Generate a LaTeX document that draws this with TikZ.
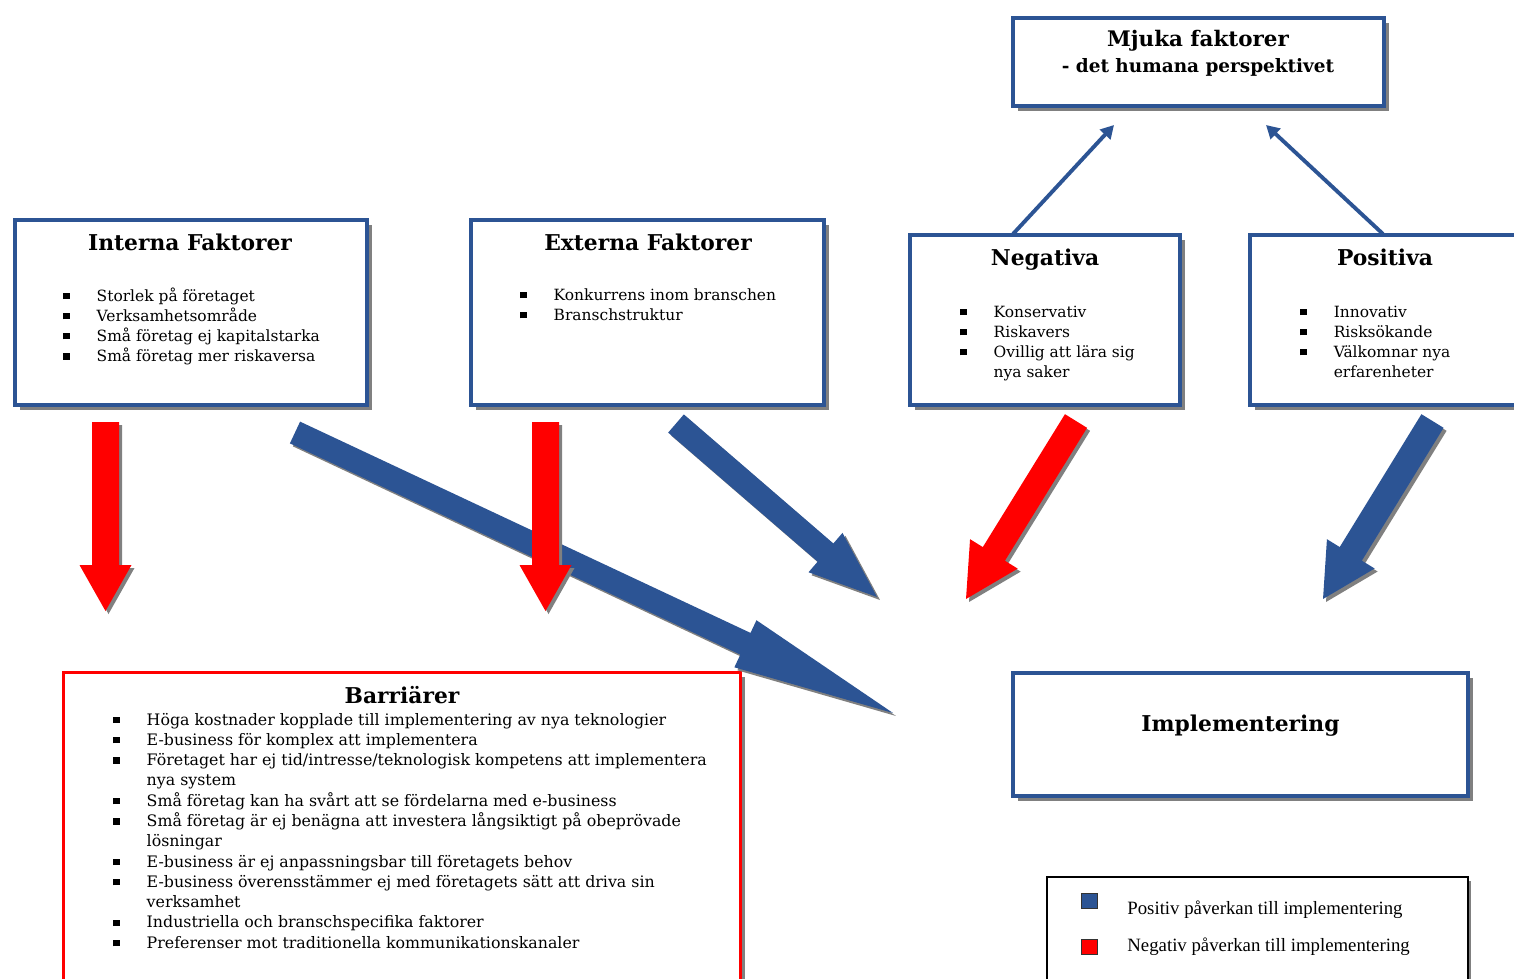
\documentclass[tikz,border=0pt]{standalone}
\usepackage{fontspec}
\setmainfont{DejaVu Serif}
\newfontfamily\legfont{Liberation Serif}
\usetikzlibrary{arrows.meta,shadows,calc}
\definecolor{bblue}{RGB}{44,84,148}
\definecolor{shgray}{RGB}{128,128,128}
\definecolor{rred}{RGB}{255,0,0}
\newcommand{\sqb}{\rule[1.1pt]{3.6pt}{3.6pt}}
\newcommand{\blockarr}[8]{%
  \pgfmathsetmacro\BAdx{#3-#1}%
  \pgfmathsetmacro\BAdy{#4-#2}%
  \pgfmathsetmacro\BAlen{veclen(\BAdx,\BAdy)}%
  \pgfmathsetmacro\BAang{atan2(\BAdy,\BAdx)}%
  \pgfmathsetmacro\BAbase{\BAlen-#7}%
  \fill[shgray, shift={(#1+3,#2+3)}, rotate=-\BAang] (0,-#5) -- (\BAbase,-#5) -- (\BAbase,-#6) -- (\BAlen,0) -- (\BAbase,#6) -- (\BAbase,#5) -- (0,#5) -- cycle;
  \fill[#8, shift={(#1,#2)}, rotate=-\BAang] (0,-#5) -- (\BAbase,-#5) -- (\BAbase,-#6) -- (\BAlen,0) -- (\BAbase,#6) -- (\BAbase,#5) -- (0,#5) -- cycle;
}
\begin{document}
\begin{tikzpicture}[x=0.02cm,y=-0.02cm,
  bluebox/.style={rectangle, draw=bblue, line width=2pt, fill=white, inner sep=0pt,
    drop shadow={opacity=1, fill=shgray, shadow xshift=2.6pt, shadow yshift=-2.6pt}},
  redbox/.style={rectangle, draw=rred, line width=1.8pt, fill=white, inner sep=0pt,
    drop shadow={opacity=1, fill=shgray, shadow xshift=2.4pt, shadow yshift=-2.4pt}},
  legbox/.style={rectangle, draw=black, line width=0.9pt, fill=white, inner sep=0pt,
    drop shadow={opacity=1, fill=shgray, shadow xshift=2pt, shadow yshift=-2pt}},
  ttl/.style={inner sep=0pt, anchor=base, font=\bfseries\fontsize{12.4}{14}\selectfont},
  lst/.style={inner sep=0pt, anchor=base west, font=\fontsize{8.8}{11.5}\selectfont},
  blst/.style={inner sep=0pt, anchor=base west, font=\fontsize{9.0}{11.55}\selectfont},
  legtxt/.style={inner sep=0pt, anchor=base west, font=\legfont\fontsize{10.7}{12}\selectfont},
  legsq/.style={rectangle, draw=black!80, line width=0.5pt, minimum width=0.32cm, minimum height=0.30cm, inner sep=0pt},
  thinarr/.style={draw=bblue, line width=2.2pt, -{Triangle[length=7.5pt,width=8pt]}}
]
\path[use as bounding box] (0,0) rectangle (1514,978);
\clip (0,0) rectangle (1514,978);
\fill[white] (0,0) rectangle (1514,978);

% boxes
\node[bluebox, minimum width=7.42cm, minimum height=1.76cm] (mj) at (1198.5,62) {};
\node[bluebox, minimum width=7.04cm, minimum height=3.70cm] (int) at (191,312.5) {};
\node[bluebox, minimum width=7.06cm, minimum height=3.70cm] (ext) at (647.5,312.5) {};
\node[bluebox, minimum width=5.40cm, minimum height=3.40cm] (neg) at (1045,320) {};
\node[bluebox, minimum width=5.40cm, minimum height=3.40cm] (pos) at (1385,320) {};
\node[redbox, minimum width=13.54cm, minimum height=6.35cm] (bar) at (402,831) {};
\node[bluebox, minimum width=9.10cm, minimum height=2.46cm] (imp) at (1240.5,734.5) {};
\node[legbox, minimum width=8.42cm, minimum height=2.26cm] (leg) at (1257.5,933.5) {};

% titles
\node[ttl, font=\bfseries\fontsize{12.2}{14}\selectfont] (mjt) at (1198,46) {Mjuka faktorer};
\node[ttl, font=\bfseries\fontsize{10.5}{12}\selectfont] (mjs) at (1198,72) {- det humana perspektivet};
\node[ttl] (intt) at (190,250) {Interna Faktorer};
\node[ttl] (extt) at (648,250) {Externa Faktorer};
\node[ttl] (negt) at (1045,265) {Negativa};
\node[ttl] (post) at (1385,265) {Positiva};
\node[ttl] (bart) at (402,703) {Barriärer};
\node[ttl] (impt) at (1240.5,731) {Implementering};

% lists
\node[lst] (intl) at (63,301) {\begin{tabular}[t]{@{}p{19pt}@{}l@{}}
\sqb & Storlek på företaget\\
\sqb & Verksamhetsområde\\
\sqb & Små företag ej kapitalstarka\\
\sqb & Små företag mer riskaversa
\end{tabular}};
\node[lst] (extl) at (520,300) {\begin{tabular}[t]{@{}p{19pt}@{}l@{}}
\sqb & Konkurrens inom branschen\\
\sqb & Branschstruktur
\end{tabular}};
\node[lst] (negl) at (960,317) {\begin{tabular}[t]{@{}p{19pt}@{}l@{}}
\sqb & Konservativ\\
\sqb & Riskavers\\
\sqb & Ovillig att lära sig\\
 & nya saker
\end{tabular}};
\node[lst] (posl) at (1300,317) {\begin{tabular}[t]{@{}p{19pt}@{}l@{}}
\sqb & Innovativ\\
\sqb & Risksökande\\
\sqb & Välkomnar nya\\
 & erfarenheter
\end{tabular}};
\node[blst] (barl) at (113,725) {\begin{tabular}[t]{@{}p{19pt}@{}l@{}}
\sqb & Höga kostnader kopplade till implementering av nya teknologier\\
\sqb & E-business för komplex att implementera\\
\sqb & Företaget har ej tid/intresse/teknologisk kompetens att implementera\\
 & nya system\\
\sqb & Små företag kan ha svårt att se fördelarna med e-business\\
\sqb & Små företag är ej benägna att investera långsiktigt på obeprövade\\
 & lösningar\\
\sqb & E-business är ej anpassningsbar till företagets behov\\
\sqb & E-business överensstämmer ej med företagets sätt att driva sin\\
 & verksamhet\\
\sqb & Industriella och branschspecifika faktorer\\
\sqb & Preferenser mot traditionella kommunikationskanaler
\end{tabular}};

% legend
\node[legsq, fill=bblue] (lsb) at (1089,900.5) {};
\node[legsq, fill=rred] (lsr) at (1089,947) {};
\node[legtxt] (ltb) at (1127,914) {Positiv påverkan till implementering};
\node[legtxt] (ltr) at (1127,951) {Negativ påverkan till implementering};

% thin arrows to Mjuka faktorer
\coordinate (negtop) at (1013,234);
\coordinate (mjl) at (1114,125);
\coordinate (postop) at (1383,234);
\coordinate (mjr) at (1266,125);
\draw[thinarr] (negtop) -- (mjl);
\draw[thinarr] (postop) -- (mjr);

% block arrows
\blockarr{295}{432.5}{893}{713}{12}{26}{163}{bblue}
\blockarr{676}{423.5}{877}{597}{12}{26}{68}{bblue}
\blockarr{105.5}{422}{105.5}{611}{13.5}{26}{46}{rred}
\blockarr{545.5}{422}{545.5}{611}{13.5}{26}{46}{rred}
\blockarr{1076}{421}{966}{599}{13}{28}{53}{rred}
\blockarr{1432.5}{421}{1323}{599}{13}{28}{53}{bblue}
\end{tikzpicture}
\end{document}
